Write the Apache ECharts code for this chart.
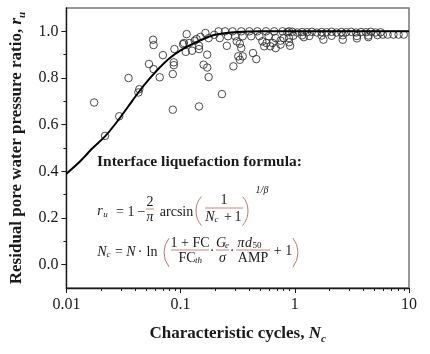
<!DOCTYPE html>
<html>
<head>
<meta charset="utf-8">
<script src="https://cdn.jsdelivr.net/npm/echarts@6/dist/echarts.min.js"></script>
<style>
  html, body { margin: 0; padding: 0; background: #fff; }
  #chart { width: 430px; height: 354px; }
</style>
</head>
<body>
<div id="chart"></div>
<script>
  // measured points (characteristic cycles, residual ratio)
  const obsNc = [
    0.0175, 0.0218, 0.029, 0.035, 0.0435, 0.0427, 0.0528, 0.0574, 0.058, 0.058,
    0.0656, 0.07, 0.0854, 0.0854, 0.0872, 0.0872, 0.0883, 0.105, 0.111, 0.113,
    0.107, 0.119, 0.133, 0.126, 0.145, 0.145, 0.138, 0.149, 0.165, 0.176,
    0.171, 0.159, 0.171, 0.176, 0.145, 0.23, 0.197, 0.215, 0.22, 0.254,
    0.245, 0.26, 0.285, 0.3, 0.31, 0.33, 0.34, 0.32, 0.35, 0.33,
    0.29, 0.34, 0.35, 0.4, 0.415, 0.43, 0.46, 0.47, 0.49, 0.52,
    0.54, 0.565, 0.56, 0.59, 0.61, 0.64, 0.66, 0.68, 0.68, 0.78,
    0.8, 0.75, 0.89, 0.89,
    0.861, 0.95, 1.049, 1.158, 1.278, 1.41, 1.56, 1.72, 1.9, 2.1,
    2.32, 2.56, 2.82, 3.12, 3.44, 3.8, 4.2, 4.63, 5.11, 5.64,
    0.97, 1.158, 1.34, 1.72, 2.1, 2.63, 3.5, 4.4, 5.3,
    5.9, 6.5, 7.3, 8.1, 9.0,
    0.89, 0.91, 1.78, 2.63, 3.5, 4.4, 1.2, 0.75
  ];
  const obsRu = [
    0.695, 0.552, 0.636, 0.80, 0.752, 0.738, 0.86, 0.964, 0.941, 0.838,
    0.803, 0.898, 0.817, 0.664, 0.867, 0.855, 0.924, 0.945, 0.912, 0.988,
    0.95, 0.95, 0.96, 0.917, 0.938, 0.924, 0.967, 0.976, 0.993, 0.971,
    0.90, 0.857, 0.845, 0.804, 0.678, 0.731, 0.985, 1.0, 0.971, 0.938,
    1.0, 0.979, 1.0, 0.979, 0.957, 0.947, 0.928, 0.893, 0.893, 0.878,
    0.85, 1.0, 0.979, 1.0, 0.979, 0.907, 0.881, 1.0, 0.979, 0.957,
    0.936, 0.95, 1.0, 0.979, 0.936, 0.95, 1.0, 0.971, 0.928, 1.0,
    0.971, 0.943, 1.0, 0.971,
    0.996, 0.998, 0.995, 0.997, 0.996, 0.998, 0.995, 0.997, 0.996, 0.998,
    0.995, 0.997, 0.996, 0.998, 0.995, 0.997, 0.996, 0.998, 0.995, 0.996,
    0.981, 0.983, 0.98, 0.982, 0.981, 0.983, 0.98, 0.982, 0.984,
    0.986, 0.986, 0.986, 0.986, 0.986,
    0.953, 0.938, 0.964, 0.964, 0.97, 0.975, 0.975, 0.96
  ];

  // fitted curve
  const fitNc = [0.01, 0.013, 0.017, 0.022, 0.028, 0.035, 0.043, 0.053, 0.065, 0.08,
                 0.1, 0.13, 0.16, 0.2, 0.26, 0.35, 0.5, 0.8, 1.5, 3, 10];
  const fitRu = [0.39, 0.44, 0.50, 0.552, 0.615, 0.68, 0.74, 0.795, 0.843, 0.885,
                 0.918, 0.948, 0.968, 0.985, 0.994, 0.998, 1.0, 1.0, 1.0, 1.0, 1.0];

  const yMajorTicks = [0, 0.2, 0.4, 0.6, 0.8, 1.0];
  const yMinorTicks = [0.1, 0.3, 0.5, 0.7, 0.9];
  const xMinorTicks = [0.02, 0.03, 0.04, 0.05, 0.06, 0.07, 0.08, 0.09,
                       0.2, 0.3, 0.4, 0.5, 0.6, 0.7, 0.8, 0.9,
                       2, 3, 4, 5, 6, 7, 8, 9];

  const SERIF = '"Liberation Serif", "Times New Roman", serif';
  const INK = '#1a1a1a';
  const PAREN = '#b08072';

  const nameRich = {
    b: { fontFamily: SERIF, fontWeight: 'bold', fontSize: 17, color: INK, lineHeight: 22 },
    bi: { fontFamily: SERIF, fontWeight: 'bold', fontStyle: 'italic', fontSize: 17, color: INK, lineHeight: 22 },
    sub: { fontFamily: SERIF, fontWeight: 'bold', fontStyle: 'italic', fontSize: 11, color: INK, lineHeight: 22, verticalAlign: 'bottom' }
  };

  const fonts = {
    rm: '14px ' + SERIF,
    it: 'italic 14px ' + SERIF,
    sub: '9px ' + SERIF,
    subit: 'italic 9px ' + SERIF,
    sup: 'italic 10px ' + SERIF,
    title: 'bold 15.5px ' + SERIF
  };

  // formula pieces: text, x, y, font key
  const formulaText = [
    ['Interface liquefaction formula:', 97, 162, 'title', 'left'],
    ['r', 100, 211, 'it'], ['u', 105.5, 215, 'subit'], ['=', 120, 212, 'rm'], ['1', 131, 212, 'rm'],
    ['\u2212', 141.5, 212, 'rm'], ['2', 150, 202, 'rm'], ['\u03c0', 150, 217, 'it'], ['arcsin', 176.5, 212, 'rm'],
    ['1', 224, 200, 'rm'], ['N', 210, 217, 'it'], ['c', 216.5, 220, 'subit'], ['+', 228, 217, 'rm'], ['1', 238, 217, 'rm'],
    ['1/\u03b2', 262, 190, 'sup'],
    ['N', 102, 252, 'it'], ['c', 108.5, 255, 'subit'], ['=', 119, 252, 'rm'], ['N', 131, 252, 'it'],
    ['\u00b7', 140, 252, 'rm'], ['ln', 152, 252, 'rm'],
    ['1 + FC', 190, 243, 'rm'], ['FC', 187, 258, 'rm'], ['th', 198.5, 261, 'subit'],
    ['\u00b7', 212, 251, 'rm'], ['G', 221, 243, 'it'], ['e', 227, 246, 'subit'], ['\u03c3', 222.5, 258, 'it'],
    ['\u00b7', 232, 251, 'rm'], ['\u03c0', 241, 243, 'it'], ['d', 248.5, 243, 'it'], ['50', 257, 246, 'sub'],
    ['AMP', 253, 258, 'rm'], ['+ 1', 283, 251, 'rm']
  ];
  const fracBars = [[146, 154, 209], [205, 243, 208], [171, 209, 250], [216, 229, 250], [236, 270, 250]];
  // parens: cx, cy, r, side
  const parens = [[218.1, 211, 22.1, 'L'], [225.9, 211, 22.1, 'R'], [187, 252.5, 23, 'L'], [275, 252.5, 23, 'R']];

  const graphics = [];
  formulaText.forEach(([text, x, y, f, align]) => {
    graphics.push({
      type: 'text', x, y, z: 100,
      style: { text, font: fonts[f], fill: INK, align: align || 'center', verticalAlign: 'middle' }
    });
  });
  fracBars.forEach(([x1, x2, y]) => {
    graphics.push({ type: 'line', z: 100, shape: { x1, y1: y, x2, y2: y }, style: { stroke: PAREN, lineWidth: 0.9 } });
  });
  parens.forEach(([cx, cy, r, side]) => {
    const half = Math.asin(14.5 / r);
    const mid = side === 'L' ? Math.PI : 0;
    graphics.push({
      type: 'arc', z: 100,
      shape: { cx, cy, r, startAngle: mid - half, endAngle: mid + half, clockwise: true },
      style: { stroke: PAREN, lineWidth: 1, fill: null }
    });
  });

  const chart = echarts.init(document.getElementById('chart'));

  const baseX = { type: 'log', logBase: 10, min: 0.01, max: 10, splitLine: { show: false } };
  const baseY = { type: 'value', min: -0.1, max: 1.1, splitLine: { show: false } };

  chart.setOption({
    animation: false,
    backgroundColor: '#fff',
    grid: { left: 60, right: 21, top: 8, bottom: 66, show: true, borderColor: '#777', borderWidth: 1.5 },
    xAxis: [
      Object.assign({}, baseX, {
        position: 'bottom',
        axisLine: { onZero: false, lineStyle: { color: INK, width: 1.3 } },
        axisTick: { length: 5, lineStyle: { color: INK } },
        axisLabel: {
          fontFamily: SERIF, fontSize: 16, color: INK, margin: 9,
          formatter: (v) => String(+Number(v).toPrecision(2))
        },
        name: '{b|Characteristic cycles, }{bi|N}{sub|c}',
        nameLocation: 'middle',
        nameGap: 35,
        nameTextStyle: { rich: nameRich }
      }),
      Object.assign({}, baseX, {
        position: 'bottom',
        axisLine: { show: false, onZero: false },
        axisLabel: { show: false },
        axisTick: { length: 3, customValues: xMinorTicks, lineStyle: { color: INK } }
      })
    ],
    yAxis: [
      Object.assign({}, baseY, {
        position: 'left',
        axisLine: { show: true, onZero: false, lineStyle: { color: INK, width: 1.3 } },
        axisTick: { show: true, length: 5, customValues: yMajorTicks, lineStyle: { color: INK } },
        axisLabel: {
          fontFamily: SERIF, fontSize: 16, color: INK, margin: 8, customValues: yMajorTicks,
          formatter: (v) => Number(v).toFixed(1)
        },
        name: '{b|Residual pore water pressure ratio, }{bi|r}{sub|u}',
        nameLocation: 'middle',
        nameGap: 35,
        nameTextStyle: { rich: nameRich }
      }),
      Object.assign({}, baseY, {
        position: 'left',
        axisLine: { show: false, onZero: false },
        axisLabel: { show: false },
        axisTick: { show: true, length: 3, customValues: yMinorTicks, lineStyle: { color: INK } }
      })
    ],
    series: [
      {
        type: 'scatter',
        xAxisIndex: 0, yAxisIndex: 0,
        data: obsNc.map((x, i) => [x, obsRu[i]]),
        symbol: 'circle',
        symbolSize: 7.5,
        itemStyle: { color: 'rgba(255,255,255,0)', borderColor: '#222', borderWidth: 1 }
      },
      {
        type: 'line',
        xAxisIndex: 0, yAxisIndex: 0,
        data: fitNc.map((x, i) => [x, fitRu[i]]),
        smooth: 0.3,
        showSymbol: false,
        symbol: 'none',
        lineStyle: { color: '#000', width: 2 },
        z: 5
      }
    ],
    graphic: graphics
  });
</script>
</body>
</html>
